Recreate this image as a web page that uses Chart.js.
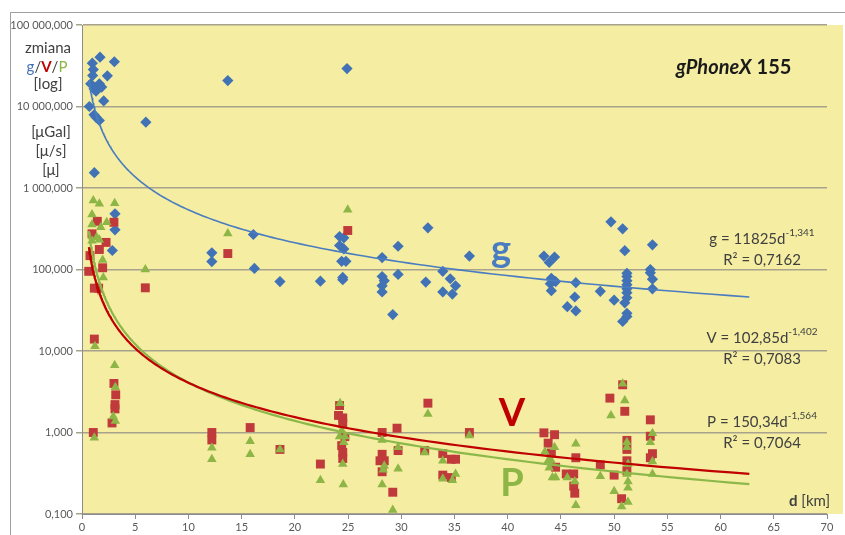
<!DOCTYPE html>
<html>
<head>
<meta charset="utf-8">
<script src="https://cdn.jsdelivr.net/npm/chart.js@4/dist/chart.umd.min.js"></script>
<style>
  html, body { margin: 0; padding: 0; background: #ffffff; }
  #wrap { position: relative; width: 845px; height: 535px; }
</style>
</head>
<body>
<div id="wrap"><canvas id="c" width="845" height="535"></canvas></div>
<script>
// gPhoneX 155 — change of g / V / P versus distance d [km], log scale

// g (blue diamonds)
const gDist = [0.97, 1.06, 1.0, 0.82, 1.13, 1.32, 0.69, 1.13, 1.32, 1.63, 1.69, 3.04, 2.38, 1.63, 1.85, 2.04, 6.0, 1.16, 13.7, 24.9,
  3.1, 3.1, 2.85, 12.2, 12.2, 16.1, 16.2, 18.6,
  22.4, 24.2, 24.6, 24.2, 24.6, 24.4, 24.8, 24.5, 24.5,
  28.2, 29.7, 32.5, 28.2, 28.4, 28.2, 28.2, 29.7, 29.2, 32.3, 33.9, 34.6, 35.1, 33.9, 34.8, 36.4,
  43.4, 44.4, 43.9, 44.1, 44.3, 44.5, 44.0, 44.1, 46.4, 46.3, 45.6, 46.4, 48.7, 50.0, 49.7, 50.8, 51.0,
  51.2, 51.2, 51.2, 51.2, 51.2, 51.2, 51.2, 51.0, 51.2, 51.2, 50.8, 53.6, 53.4, 53.4, 53.6, 53.6];
const gVal = [34000, 28400, 24000, 19000, 16500, 15400, 10000, 7900, 7400, 6730, 40300, 35400, 23800, 19000, 17300, 11700, 6420, 1540, 20800, 29200,
  482, 307, 171, 160, 125, 269, 103, 71,
  72, 254, 245, 197, 179, 126, 126, 80, 75,
  140, 193, 325, 82, 73, 63, 53, 87, 28, 70, 95, 77, 63, 53, 50, 146,
  146, 142, 122, 78, 73, 71, 67, 55, 69, 46, 35, 31, 54, 42, 385, 316, 170,
  90, 82, 73, 65, 58, 52, 45, 39, 29, 26.5, 23, 201, 100, 91, 76, 58];

// V (red squares)
const vDist = [1.44, 3.0, 0.94, 2.26, 1.63, 0.75, 1.94, 0.63, 1.16, 1.56, 5.95, 1.16, 3.0, 3.17, 3.1, 3.1, 2.82, 1.06,
  13.7, 12.2, 12.2, 15.8, 18.6, 22.4, 24.97,
  24.2, 24.1, 24.5, 24.5, 24.4, 24.5, 24.5, 24.7,
  28.2, 28.2, 28.4, 28.0, 28.2, 29.2, 29.6, 29.7, 32.5, 32.2, 33.9, 33.9, 34.7, 35.1, 34.7, 36.4,
  43.4, 44.4, 43.8, 44.1, 44.5, 45.5, 46.2, 46.4, 46.2, 46.3, 48.7, 49.6, 50.0, 50.7, 50.8, 51.0,
  51.2, 51.2, 51.2, 51.2, 53.4, 53.4, 53.6, 53.4];
const vVal = [390, 380, 274, 215, 176, 148, 105, 95, 59, 59, 59.6, 14, 4.0, 2.9, 2.2, 1.95, 1.31, 1.0,
  157, 1.0, 0.81, 1.15, 0.62, 0.41, 301,
  2.14, 1.62, 1.51, 1.30, 0.69, 0.57, 0.48, 0.89,
  1.0, 0.54, 0.45, 0.45, 0.33, 0.185, 1.13, 0.60, 2.29, 0.60, 0.55, 0.30, 0.47, 0.47, 0.28, 1.0,
  0.99, 0.94, 0.74, 0.56, 0.375, 0.31, 0.31, 0.49, 0.22, 0.18, 0.40, 2.64, 0.30, 0.154, 3.85, 1.82,
  0.80, 0.62, 0.45, 0.34, 1.43, 0.90, 0.55, 0.49];

// P (green triangles)
const pDist = [1.06, 1.63, 3.07, 0.94, 0.94, 1.76, 2.32, 0.94, 1.63, 1.94, 2.0, 5.95, 1.22, 3.07, 3.13, 2.94, 3.13, 1.16, 1.38,
  13.7, 12.2, 12.2, 15.8, 15.8, 18.6, 22.4, 24.97,
  24.25, 24.4, 24.2, 24.7, 24.6, 24.5, 24.55,
  28.2, 28.4, 28.3, 28.2, 29.2, 29.7, 29.7, 32.5, 32.2, 33.9, 33.9, 34.8, 35.1, 36.4,
  43.5, 44.4, 43.8, 44.1, 43.9, 44.5, 44.2, 46.4, 45.6, 46.3, 46.4, 48.7, 49.7, 50.0, 50.7, 50.8, 51.0,
  51.2, 51.2, 51.3, 51.2, 51.3, 51.3, 51.3, 53.6, 53.4, 53.6, 53.6];
const pVal = [703, 640, 650, 473, 356, 330, 380, 226, 232, 131, 80, 100, 11.4, 6.7, 3.6, 1.57, 1.38, 0.86, 249,
  277, 0.65, 0.47, 0.78, 0.54, 0.62, 0.26, 540,
  2.29, 1.06, 0.89, 0.89, 0.76, 0.41, 0.23,
  0.81, 0.39, 0.35, 0.23, 0.112, 0.66, 0.36, 1.69, 0.57, 0.45, 0.27, 0.26, 0.31, 0.92,
  0.58, 0.66, 0.45, 0.45, 0.37, 0.28, 0.28, 0.73, 0.28, 0.25, 0.128, 0.29, 1.62, 0.19, 0.124, 3.96, 2.47,
  0.76, 0.66, 0.41, 0.31, 0.25, 0.21, 0.14, 0.98, 0.76, 0.44, 0.31];

// power-law fits  y = a * d^b
const seriesNames = ['g', 'V', 'P'];
const fitCoef = [11825, 102.85, 150.34];
const fitExp = [-1.341, -1.402, -1.564];
const fitR2 = ['0,7162', '0,7083', '0,7064'];
const fitFrom = 0.65, fitTo = 62.7;

// axes
const xMin = 0, xMax = 70, xStep = 5;
const yTickValues = [0.1, 1, 10, 100, 1000, 10000, 100000];
const yTickLabels = ['0,100', '1,000', '10,000', '100,000', '1 000,000', '10 000,000', '100 000,000'];

const BLUE = '#4172B6', RED = '#C0393B', GREEN = '#8DB646';
const BLUE_LINE = '#4A7CC0', RED_LINE = '#C00000', GREEN_LINE = '#8CB84A';
const FONT = 'Lato, "Open Sans", sans-serif';
const TXT = '#404040';

function pts(xs, ys) { return xs.map((x, i) => ({ x: x, y: ys[i] })); }

function fitCurve(k) {
  const out = [];
  const n = 160;
  const l0 = Math.log(fitFrom), l1 = Math.log(fitTo);
  for (let i = 0; i <= n; i++) {
    const d = Math.exp(l0 + (l1 - l0) * i / n);
    out.push({ x: d, y: fitCoef[k] * Math.pow(d, fitExp[k]) });
  }
  return out;
}

function fmt(v) { return String(v).replace('.', ','); }

const bgPlugin = {
  id: 'bg',
  beforeDraw(chart) {
    const ctx = chart.ctx, a = chart.chartArea;
    ctx.save();
    ctx.fillStyle = '#ffffff';
    ctx.fillRect(0, 0, chart.width, chart.height);
    ctx.fillStyle = '#F4EDA2';
    ctx.fillRect(a.left, a.top, 843 - a.left, a.bottom - a.top);
    ctx.strokeStyle = '#A0A0A0';
    ctx.lineWidth = 1;
    ctx.strokeRect(10.5, 12.5, 900, 600);
    ctx.restore();
  }
};

const textPlugin = {
  id: 'texts',
  afterDraw(chart) {
    const ctx = chart.ctx;
    ctx.save();
    ctx.textBaseline = 'middle';

    // title
    ctx.textAlign = 'left';
    ctx.fillStyle = '#1a1a1a';
    ctx.font = 'italic bold 20px ' + FONT;
    const t1 = 'gPhoneX';
    ctx.fillText(t1, 676, 68);
    const w1 = ctx.measureText(t1).width;
    ctx.font = 'bold 20px ' + FONT;
    ctx.fillText(' 155', 676 + w1, 68);

    // y axis title
    ctx.textAlign = 'center';
    ctx.fillStyle = TXT;
    ctx.font = '15px ' + FONT;
    ctx.fillText('zmiana', 48, 48);
    ctx.fillText('[log]', 48, 84);
    ctx.fillText('[\u03BCGal]', 51, 132);
    ctx.fillText('[\u03BC/s]', 51, 151);
    ctx.fillText('[\u03BC]', 51, 170);
    const parts = [['g', BLUE, ''], ['/', TXT, ''], ['V', RED_LINE, 'bold '], ['/', TXT, ''], ['P', GREEN, '']];
    let tw = 0;
    parts.forEach(p => { ctx.font = p[2] + '15px ' + FONT; tw += ctx.measureText(p[0]).width; });
    let xx = 47 - tw / 2;
    ctx.textAlign = 'left';
    parts.forEach(p => {
      ctx.font = p[2] + '15px ' + FONT;
      ctx.fillStyle = p[1];
      ctx.fillText(p[0], xx, 67);
      xx += ctx.measureText(p[0]).width;
    });

    // x axis title
    ctx.fillStyle = TXT;
    ctx.font = 'bold 15px ' + FONT;
    ctx.fillText('d', 789, 501);
    const wd = ctx.measureText('d').width;
    ctx.font = '15px ' + FONT;
    ctx.fillText(' [km]', 789 + wd, 501);

    // fit equations
    const eqY = [239, 338, 422];
    for (let k = 0; k < 3; k++) {
      const main = seriesNames[k] + ' = ' + fmt(fitCoef[k]) + 'd';
      const sup = fmt(fitExp[k]);
      ctx.font = '15px ' + FONT;
      const wm = ctx.measureText(main).width;
      ctx.font = '10px ' + FONT;
      const ws = ctx.measureText(sup).width;
      let x0 = 762 - (wm + ws) / 2;
      ctx.fillStyle = TXT;
      ctx.font = '15px ' + FONT;
      ctx.textAlign = 'left';
      ctx.fillText(main, x0, eqY[k]);
      ctx.font = '10px ' + FONT;
      ctx.fillText(sup, x0 + wm, eqY[k] - 6);
      ctx.font = '15px ' + FONT;
      ctx.textAlign = 'center';
      ctx.fillText('R\u00B2 = ' + fitR2[k], 762, eqY[k] + 21);
    }

    // series letters
    ctx.textAlign = 'center';
    ctx.font = 'bold 38px ' + FONT;
    ctx.fillStyle = BLUE_LINE;
    ctx.fillText('g', 501, 250);
    ctx.fillStyle = RED_LINE;
    ctx.fillText('V', 512, 414);
    ctx.fillStyle = GREEN;
    ctx.fillText('P', 512, 484);
    ctx.restore();
  }
};

const chart = new Chart(document.getElementById('c'), {
  type: 'scatter',
  data: {
    datasets: [
      { label: 'g fit', type: 'line', data: fitCurve(0), borderColor: BLUE_LINE, borderWidth: 1.6, pointRadius: 0, fill: false, order: 0 },
      { label: 'V fit', type: 'line', data: fitCurve(1), borderColor: RED_LINE, borderWidth: 2.2, pointRadius: 0, fill: false, order: 0 },
      { label: 'P fit', type: 'line', data: fitCurve(2), borderColor: GREEN_LINE, borderWidth: 2.2, pointRadius: 0, fill: false, order: 0 },
      { label: 'P', data: pts(pDist, pVal), pointStyle: 'triangle', pointRadius: 5.5, backgroundColor: GREEN, borderColor: GREEN, borderWidth: 0, order: 1 },
      { label: 'V', data: pts(vDist, vVal), pointStyle: 'rect', pointRadius: 6.3, backgroundColor: RED, borderColor: RED, borderWidth: 0, order: 2 },
      { label: 'g', data: pts(gDist, gVal), pointStyle: 'rectRot', pointRadius: 5.6, backgroundColor: BLUE, borderColor: BLUE, borderWidth: 0, order: 3 }
    ]
  },
  options: {
    responsive: false,
    animation: false,
    events: [],
    layout: { padding: { left: 0, top: 25, right: 18, bottom: 0 } },
    plugins: { legend: { display: false }, tooltip: { enabled: false } },
    elements: { line: { tension: 0 } },
    scales: {
      x: {
        type: 'linear', min: xMin, max: xMax,
        afterFit(s) { s.height = 21; },
        ticks: { stepSize: xStep, color: '#595959', font: { family: FONT, size: 11 }, padding: 2, maxRotation: 0 },
        grid: { drawOnChartArea: false, drawTicks: true, tickLength: 5, color: '#8C8C8C' },
        border: { color: '#8C8C8C', width: 1 }
      },
      y: {
        type: 'logarithmic', min: 0.1, max: 100000,
        afterFit(s) { s.width = 82; },
        afterBuildTicks(s) { s.ticks = yTickValues.map(v => ({ value: v, major: true })); },
        ticks: {
          color: '#595959', font: { family: FONT, size: 11 }, padding: 3,
          callback(v) { const i = yTickValues.indexOf(v); return i >= 0 ? yTickLabels[i] : ''; }
        },
        grid: { color: '#A8A28C', lineWidth: 1.5, tickLength: 6 },
        border: { color: '#8C8C8C', width: 1 }
      }
    }
  },
  plugins: [bgPlugin, textPlugin]
});
</script>
</body>
</html>
